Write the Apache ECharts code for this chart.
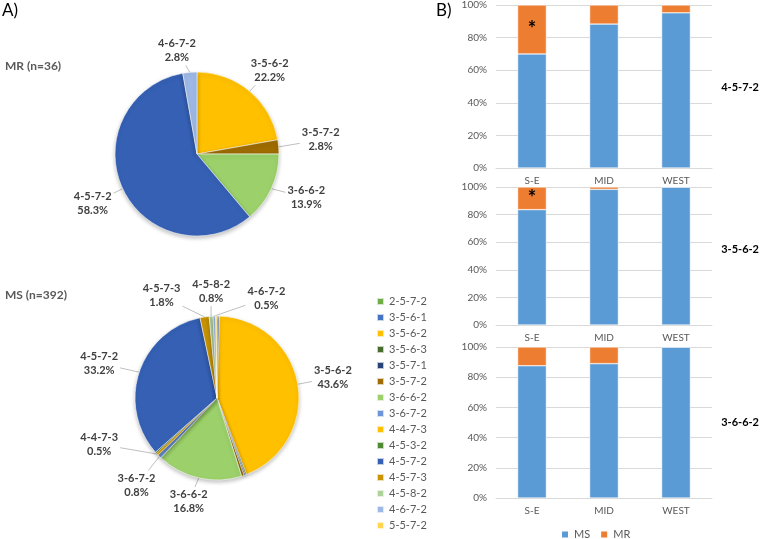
<!DOCTYPE html>
<html><head><meta charset="utf-8">
<script src="https://cdn.jsdelivr.net/npm/echarts@6/dist/echarts.min.js"></script>
<style>html,body{margin:0;padding:0;background:#fff}#c{width:760px;height:539px}</style>
</head><body><div id="c"></div>
<script>
// ---- data ----
const mrNames = ['3-5-6-2','3-5-7-2','3-6-6-2','4-5-7-2','4-6-7-2'];
const mrCounts = [8,1,5,21,1];
const msNames = ['2-5-7-2','3-5-6-1','3-5-6-2','3-5-6-3','3-5-7-1','3-5-7-2','3-6-6-2','3-6-7-2','4-4-7-3','4-5-3-2','4-5-7-2','4-5-7-3','4-5-8-2','4-6-7-2','5-5-7-2'];
const msCounts = [1,1,171,1,1,2,66,3,2,1,130,7,3,2,1];
const msLabeled = ['3-5-6-2','3-6-6-2','3-6-7-2','4-4-7-3','4-5-7-2','4-5-7-3','4-5-8-2','4-6-7-2'];
const regions = ['S-E','MID','WEST'];
const panelNames = ['4-5-7-2','3-5-6-2','3-6-6-2'];
const msShare = [[70,88.3,95.2],[83.6,98.3,100],[87.6,89,100]];
const mrShare = [[30,11.7,4.8],[16.4,1.7,0],[12.4,11,0]];
const starMarks = [['*','',''],['*','',''],['','','']];

// ---- styles / layout ----
const colorMap = {
 '2-5-7-2':'#70AD47','3-5-6-1':'#4472C4','3-5-6-2':'#FFC000','3-5-6-3':'#476D2E',
 '3-5-7-1':'#264478','3-5-7-2':'#9E6C00','3-6-6-2':'#9BD06A','3-6-7-2':'#6C94D6',
 '4-4-7-3':'#FFC000','4-5-3-2':'#4E8A32','4-5-7-2':'#3560B4','4-5-7-3':'#C99400',
 '4-5-8-2':'#AED39A','4-6-7-2':'#9EB8E5','5-5-7-2':'#FFD54F'
};
// label offsets (text centre relative to the slice's edge point)
const mrLabelOffsets = {'3-5-6-2':[20,-21],'3-5-7-2':[42,-7],'3-6-6-2':[35,9],'4-5-7-2':[-30,15],'4-6-7-2':[-13,-22]};
const msLabelOffsets = {'3-5-6-2':[35,-7],'3-6-6-2':[-10,24],'3-6-7-2':[-23,29],'4-4-7-3':[-58,-10],
  '4-5-7-2':[-40,-9],'4-5-7-3':[-43,-21],'4-5-8-2':[0,-25],'4-6-7-2':[52,-18]};
const FONT = 'Lato, "Open Sans", sans-serif';
const grids = [
  {left:496, width:216, top:3, height:165},
  {left:496, width:216, top:187, height:138},
  {left:496, width:216, top:347, height:151}
];
const panelLabelTop = [82, 244, 417];

const chart = echarts.init(document.getElementById('c'), null, {renderer:'canvas'});

function makeLayout(names, offsets){
  return function(p){
    const off = offsets[names[p.dataIndex]];
    if (!off || !p.labelLinePoints) return {};
    const p0 = p.labelLinePoints[0];
    const cx = p0[0]+off[0], cy = p0[1]+off[1];
    const hw = p.labelRect.width/2 + 2, hh = p.labelRect.height/2 + 1;
    const dx = p0[0]-cx, dy = p0[1]-cy;
    const t = Math.min(dx ? hw/Math.abs(dx) : Infinity, dy ? hh/Math.abs(dy) : Infinity);
    const end = [cx+dx*t, cy+dy*t];
    return {x:cx, y:cy, align:'center', verticalAlign:'middle', labelLinePoints:[p0, end, end]};
  };
}

function pieSeries(names, counts, center, labeled, offsets) {
  return {
    type:'pie', center:center, radius:82, startAngle:90, clockwise:true,
    percentPrecision:1, avoidLabelOverlap:false,
    itemStyle:{borderColor:'rgba(255,255,255,0.7)', borderWidth:0.8,
      shadowColor:'rgba(0,0,0,0.25)', shadowBlur:4, shadowOffsetY:2},
    label:{formatter:'{b}\n{d}%', fontFamily:FONT, fontWeight:'bold', fontSize:11,
      color:'#404040', lineHeight:14, align:'center'},
    labelLine:{length:8, length2:8, lineStyle:{color:'#bfbfbf', width:1}},
    labelLayout: makeLayout(names, offsets),
    data: names.map((n,i)=>{
      const d = {name:n, value:counts[i], itemStyle:{color:colorMap[n]}};
      if (labeled && labeled.indexOf(n) < 0) { d.label={show:false}; d.labelLine={show:false}; }
      return d;
    })
  };
}

const series = [
  pieSeries(mrNames, mrCounts, [197,154], null, mrLabelOffsets),
  pieSeries(msNames, msCounts, [217,398], msLabeled, msLabelOffsets)
];
const xAxis = [], yAxis = [];
grids.forEach((g,i)=>{
  xAxis.push({type:'category', gridIndex:i, data:regions,
    axisLine:{lineStyle:{color:'#d9d9d9'}}, axisTick:{show:false},
    axisLabel:{color:'#595959', fontSize:10, fontFamily:FONT, margin:8}});
  yAxis.push({type:'value', gridIndex:i, min:0, max:100, interval:20,
    axisLine:{show:false}, axisTick:{show:false},
    splitLine:{lineStyle:{color:'#d9d9d9'}},
    axisLabel:{formatter:v=>v+'%', color:'#595959', fontSize:10, fontFamily:FONT, margin:9}});
  series.push({type:'bar', name:'MS', xAxisIndex:i, yAxisIndex:i, stack:'s'+i,
    barWidth:'40%', itemStyle:{color:'#5B9BD5', borderColor:'#fff', borderWidth:0.5},
    data: msShare[i]});
  series.push({type:'bar', name:'MR', xAxisIndex:i, yAxisIndex:i, stack:'s'+i,
    barWidth:'40%', itemStyle:{color:'#ED7D31', borderColor:'#fff', borderWidth:0.5},
    label:{show:true, position:'inside', formatter:p=>starMarks[i][p.dataIndex],
      fontSize:20, fontWeight:'bold', color:'#000', fontFamily:FONT},
    data: mrShare[i]});
});

const titles = [
  {text:'A)', left:0, top:0, padding:[2,2], textStyle:{fontSize:17, fontWeight:'normal', color:'#000', fontFamily:FONT}},
  {text:'B)', left:434, top:0, padding:[2,2], textStyle:{fontSize:17, fontWeight:'normal', color:'#000', fontFamily:FONT}},
  {text:'MR (n=36)', left:0, top:55, textStyle:{fontSize:12, fontWeight:'bold', color:'#595959', fontFamily:FONT}},
  {text:'MS (n=392)', left:0, top:284, textStyle:{fontSize:12, fontWeight:'bold', color:'#595959', fontFamily:FONT}}
];
panelNames.forEach((n,i)=>titles.push({text:n, right:1, top:panelLabelTop[i], padding:0,
  textStyle:{fontSize:11, fontWeight:'bold', color:'#000', fontFamily:FONT}}));

chart.setOption({
  animation:false,
  title: titles,
  grid: grids,
  xAxis: xAxis,
  yAxis: yAxis,
  legend: [
    {data: msNames, orient:'vertical', left:376, top:296, padding:0, itemWidth:7, itemHeight:7, itemGap:5,
      icon:'rect', textStyle:{color:'#595959', fontSize:11, fontFamily:FONT}},
    {data:['MS','MR'], left:560, top:529, padding:0, itemWidth:8, itemHeight:8, itemGap:9,
      icon:'rect', textStyle:{color:'#595959', fontSize:11, fontFamily:FONT}}
  ],
  series: series
});
</script></body></html>
